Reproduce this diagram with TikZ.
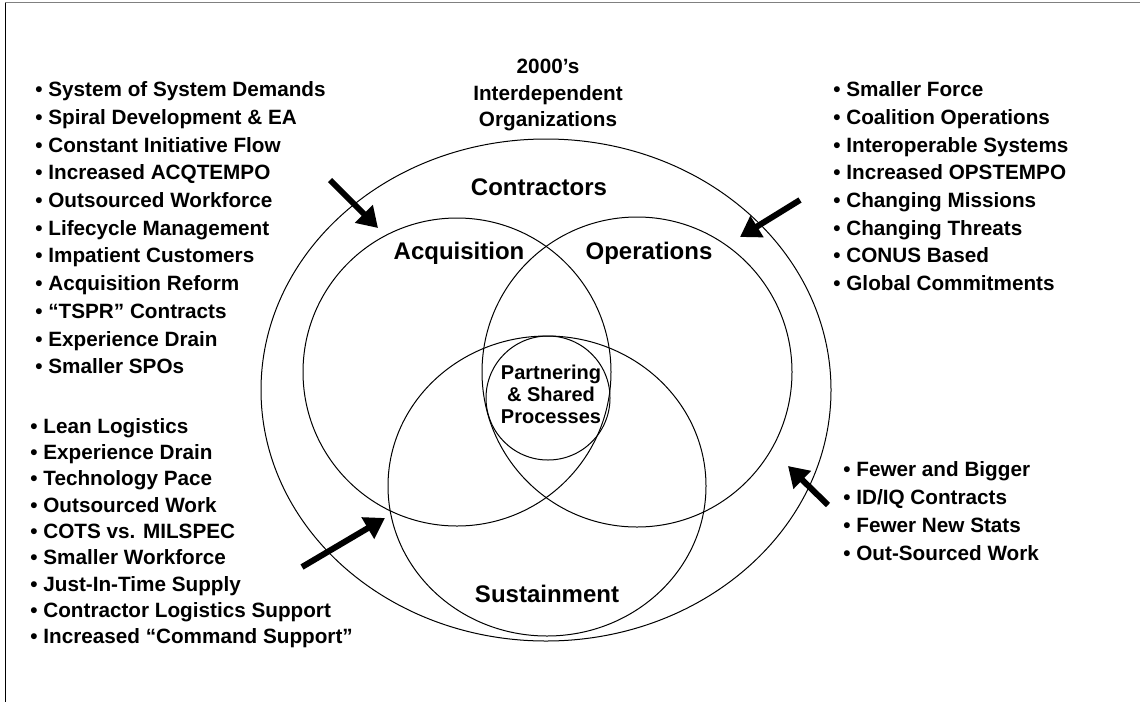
\documentclass[tikz,border=0pt]{standalone}
\usepackage{fontspec}
\setmainfont{Liberation Sans}
\usetikzlibrary{arrows.meta}

\tikzset{
  item/.style={anchor=base west, inner sep=0pt, font=\bfseries\fontsize{10.35}{12}\selectfont},
  ringname/.style={anchor=base, inner sep=0pt, font=\bfseries\fontsize{12}{14}\selectfont},
  heading/.style={align=center, inner sep=0pt, font=\bfseries\fontsize{10.35}{13.2}\selectfont},
  ring/.style={line width=0.5pt},
  push/.style={line width=3pt, -{Triangle[length=10pt,width=12pt]}},
}

\begin{document}
\begin{tikzpicture}[x=0.5pt, y=-0.5pt]

\useasboundingbox (0,0) rectangle (1145,702);

\draw[gray, line width=0.9pt] (5,2.5) -- (1140,2.5);
\draw[line width=0.9pt] (5.5,2.5) -- (5.5,702);


\draw[ring] (546,390) ellipse [x radius=285, y radius=251];

\draw[ring] (457,372) circle [radius=154];

\draw[ring] (637,372) circle [radius=155];

\draw[ring] (547,486) ellipse [x radius=159, y radius=150];

\draw[ring] (548,398) circle [radius=62];


\node[heading] (title) at (548,95) {2000’s\\Interdependent\\Organizations};

\node[ringname] (contractors) at (539,195) {Contractors};
\node[ringname] (acquisition) at (459,259) {Acquisition};
\node[ringname] (operations) at (649,259) {Operations};
\node[ringname] (sustainment) at (547,602) {Sustainment};

\node[heading, font=\bfseries\fontsize{10}{11}\selectfont] (shared) at (551,394) {Partnering\\\& Shared\\Processes};


\foreach \t [count=\i] in {System of System Demands, Spiral Development \& EA,
    Constant Initiative Flow, Increased ACQTEMPO, Outsourced Workforce,
    Lifecycle Management, Impatient Customers, Acquisition Reform,
    “TSPR” Contracts, Experience Drain, Smaller SPOs}
  \node[item] (acq\i) at (35,{96.7+27.7*(\i-1)}) {• \t};

\foreach \t [count=\i] in {Smaller Force, Coalition Operations, Interoperable Systems,
    Increased OPSTEMPO, Changing Missions, Changing Threats, CONUS Based,
    Global Commitments}
  \node[item] (ops\i) at (833,{96.7+27.7*(\i-1)}) {• \t};

\foreach \t [count=\i] in {Lean Logistics, Experience Drain, Technology Pace,
    Outsourced Work, COTS vs. MILSPEC, Smaller Workforce, Just-In-Time Supply,
    Contractor Logistics Support, Increased “Command Support”}
  \node[item] (sus\i) at (30,{433.3+26.3*(\i-1)}) {• \t};

\foreach \t [count=\i] in {Fewer and Bigger, ID/IQ Contracts, Fewer New Stats,
    Out-Sourced Work}
  \node[item] (con\i) at (843,{476+28*(\i-1)}) {• \t};


\coordinate (a1) at (330,180);
\coordinate (b1) at (378,228);
\coordinate (a2) at (800,200);
\coordinate (b2) at (740,237);
\coordinate (a3) at (302,567);
\coordinate (b3) at (385,518);
\coordinate (a4) at (828,505);
\coordinate (b4) at (788,466);

\draw[push] (a1) -- (b1);
\draw[push] (a2) -- (b2);
\draw[push] (a3) -- (b3);
\draw[push] (a4) -- (b4);

\end{tikzpicture}
\end{document}
